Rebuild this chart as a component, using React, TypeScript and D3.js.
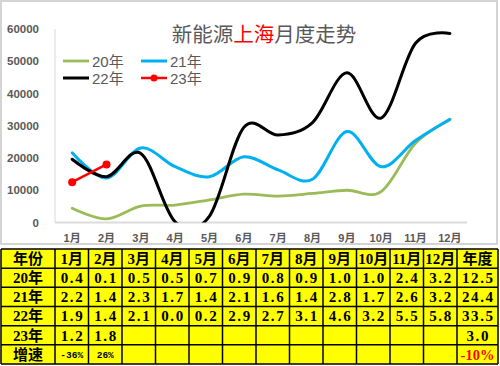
import * as d3 from 'd3';
import React, { useEffect, useRef } from 'react';

// 月份与各年数据（单位：辆）
const months = ['1月', '2月', '3月', '4月', '5月', '6月', '7月', '8月', '9月', '10月', '11月', '12月'];
const y20 = [4400, 1100, 5100, 5400, 7000, 8800, 8200, 9000, 10000, 9600, 24600, 31800];
const y21 = [21600, 13800, 23100, 17300, 14200, 20400, 16300, 13400, 28200, 17300, 25400, 32000];
const y22 = [19600, 14200, 21400, 200, 2000, 29500, 27100, 31000, 46400, 32400, 55600, 58600];
const y23 = [12500, 18000];
const yTicks = [0, 10000, 20000, 30000, 40000, 50000, 60000];

// 表格（单位：万辆）
const rowLabels = ['年份', '20年', '21年', '22年', '23年', '增速'];
const t20 = ['0.4', '0.1', '0.5', '0.5', '0.7', '0.9', '0.8', '0.9', '1.0', '1.0', '2.4', '3.2'];
const t21 = ['2.2', '1.4', '2.3', '1.7', '1.4', '2.1', '1.6', '1.4', '2.8', '1.7', '2.6', '3.2'];
const t22 = ['1.9', '1.4', '2.1', '0.0', '0.2', '2.9', '2.7', '3.1', '4.6', '3.2', '5.5', '5.8'];
const t23 = ['1.2', '1.8'];
const tGrowth = ['-36%', '26%'];
const annual = ['年度', '12.5', '24.4', '33.5', '3.0', '-10%'];

const series = [
  { name: '20年', values: y20, color: '#9BBB59', width: 2.8, marker: false },
  { name: '21年', values: y21, color: '#00B0F0', width: 3, marker: false },
  { name: '22年', values: y22, color: '#000000', width: 3, marker: false },
  { name: '23年', values: y23, color: '#FF0000', width: 2.5, marker: true },
];

const sans = "'Liberation Sans', Arial, 'Noto Sans CJK SC', sans-serif";
const serif = "'Liberation Serif', 'Noto Sans CJK SC', serif";
const mono = "'Liberation Mono', 'Noto Sans CJK SC', monospace";

const App: React.FC = () => {
  const svgRef = useRef<SVGSVGElement>(null);
  const width = 500;
  const height = 366;

  useEffect(() => {
    document.body.style.margin = '0';
    if (!svgRef.current) return;
    const svg = d3.select(svgRef.current);
    svg.selectAll('*').remove();

    // chart frame
    svg.append('rect')
      .attr('x', 1).attr('y', 1).attr('width', 496).attr('height', 243)
      .attr('fill', '#fff').attr('stroke', '#D4D4D4').attr('stroke-width', 2);

    const x = d3.scaleBand<string>().domain(months).range([55, 467]);
    const y = d3.scaleLinear().domain([0, 60000]).range([222.5, 29]);
    const cx = (i: number) => (x(months[i]) as number) + x.bandwidth() / 2;

    // plot area borders
    svg.append('line')
      .attr('x1', 55).attr('x2', 55).attr('y1', 29).attr('y2', 222.5)
      .attr('stroke', '#E6E6E6').attr('stroke-width', 1.5);
    svg.append('line')
      .attr('x1', 55).attr('x2', 467).attr('y1', 222.5).attr('y2', 222.5)
      .attr('stroke', '#DCDCDC').attr('stroke-width', 2);

    // y axis labels
    svg.append('g').selectAll('text')
      .data(yTicks)
      .join('text')
      .attr('x', 39)
      .attr('y', d => y(d) + 4)
      .attr('text-anchor', 'end')
      .style('font-family', sans)
      .style('font-size', '11.5px')
      .style('font-weight', 'bold')
      .attr('fill', '#595959')
      .text(d => String(d));

    // x axis labels
    svg.append('g').selectAll('text')
      .data(months)
      .join('text')
      .attr('x', (d, i) => cx(i))
      .attr('y', 242)
      .attr('text-anchor', 'middle')
      .style('font-family', sans)
      .style('font-size', '11px')
      .style('font-weight', 'bold')
      .attr('fill', '#595959')
      .text(d => d);

    // clip
    svg.append('clipPath').attr('id', 'plotClip')
      .append('rect').attr('x', 50).attr('y', 10).attr('width', 425).attr('height', 212.5);

    const line = d3.line<number>()
      .x((d, i) => cx(i))
      .y(d => y(d))
      .curve(d3.curveCardinal.tension(0));

    const plot = svg.append('g').attr('clip-path', 'url(#plotClip)');
    series.forEach(s => {
      plot.append('path')
        .datum(s.values)
        .attr('d', line)
        .attr('fill', 'none')
        .attr('stroke', s.color)
        .attr('stroke-width', s.width)
        .attr('stroke-linecap', 'round');
      if (s.marker) {
        plot.selectAll(null)
          .data(s.values)
          .join('circle')
          .attr('cx', (d, i) => cx(i))
          .attr('cy', d => y(d))
          .attr('r', 4)
          .attr('fill', s.color);
      }
    });

    // title
    const title = svg.append('text')
      .attr('x', 264).attr('y', 42)
      .attr('text-anchor', 'middle')
      .style('font-family', "'Noto Sans CJK SC', sans-serif")
      .style('font-size', '20.5px')
      .attr('fill', '#595959');
    title.append('tspan').text('新能源');
    title.append('tspan').attr('fill', '#FF0000').text('上海');
    title.append('tspan').text('月度走势');

    // legend
    const legendPos = [[63, 61], [141, 61], [63, 78], [141, 78]];
    series.forEach((s, i) => {
      const [lx, ly] = legendPos[i];
      const g = svg.append('g').attr('transform', `translate(${lx},${ly})`);
      g.append('line').attr('x1', 0).attr('x2', 26).attr('y1', 0).attr('y2', 0)
        .attr('stroke', s.color).attr('stroke-width', s.width);
      if (s.marker) g.append('circle').attr('cx', 13).attr('cy', 0).attr('r', 3.5).attr('fill', s.color);
      g.append('text')
        .attr('x', 29).attr('y', 5.5)
        .style('font-family', sans)
        .style('font-size', '15px')
        .attr('fill', '#595959')
        .text(s.name);
    });

    // table
    const colX = d3.scaleBand<string>().domain(months).range([55, 457]);
    const rowY = d3.scaleBand<string>().domain(rowLabels).range([249, 364]);
    const rh = rowY.bandwidth();
    const cw = colX.bandwidth();
    const tbl = svg.append('g');

    tbl.append('rect')
      .attr('x', 1).attr('y', 249).attr('width', 497).attr('height', 115)
      .attr('fill', '#FFFF00');

    const vEdges = [1, ...months.map(m => colX(m) as number), 457, 498];
    tbl.selectAll('.vl').data(vEdges).join('line')
      .attr('x1', d => d).attr('x2', d => d).attr('y1', 249).attr('y2', 364)
      .attr('stroke', '#000').attr('stroke-width', 1.5);
    const hEdges = [...rowLabels.map(r => rowY(r) as number), 364];
    tbl.selectAll('.hl').data(hEdges).join('line')
      .attr('x1', 1).attr('x2', 498).attr('y1', d => d).attr('y2', d => d)
      .attr('stroke', '#000').attr('stroke-width', 1.5);

    const cell = (tx: number, row: string, txt: string, opts: { size?: number; font?: string; color?: string; ls?: number } = {}) => {
      tbl.append('text')
        .attr('x', tx)
        .attr('y', (rowY(row) as number) + rh / 2)
        .attr('dy', '0.36em')
        .attr('text-anchor', 'middle')
        .style('font-family', opts.font ?? serif)
        .style('font-size', `${opts.size ?? 15}px`)
        .style('font-weight', 'bold')
        .style('letter-spacing', `${opts.ls ?? 0}px`)
        .attr('fill', opts.color ?? '#000')
        .text(txt);
    };

    const firstX = 28;
    const lastX = 477.5;
    rowLabels.forEach(r => cell(firstX, r, r));
    months.forEach(m => cell((colX(m) as number) + cw / 2, '年份', m));
    const rows: [string, string[]][] = [['20年', t20], ['21年', t21], ['22年', t22], ['23年', t23]];
    rows.forEach(([r, vals]) => {
      vals.forEach((v, i) => cell((colX(months[i]) as number) + cw / 2 + 0.8, r, v, { ls: 1.6 }));
    });
    tGrowth.forEach((v, i) => cell((colX(months[i]) as number) + cw / 2, '增速', v, { size: 9.5, font: mono }));
    annual.forEach((v, i) => {
      const r = rowLabels[i];
      if (r === '增速') cell(lastX, r, v, { size: 14.5, color: '#FF0000' });
      else cell(lastX + (i === 0 ? 0 : 0.8), r, v, { ls: i === 0 ? 0 : 1.6 });
    });
  }, []);

  return <svg ref={svgRef} width={width} height={height} style={{ display: 'block' }} />;
};

export default App;
